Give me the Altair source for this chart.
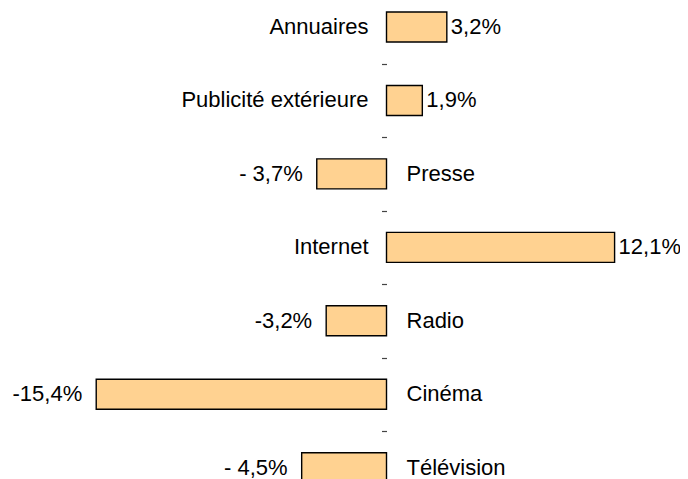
import altair as alt
import pandas as pd

categories = ["Annuaires", "Publicité extérieure", "Presse", "Internet", "Radio", "Cinéma", "Télévision"]
values = [3.2, 1.9, -3.7, 12.1, -3.2, -15.4, -4.5]
value_labels = ["3,2%", "1,9%", "- 3,7%", "12,1%", "-3,2%", "-15,4%", "- 4,5%"]

df = pd.DataFrame({"cat": categories, "value": values, "label": value_labels})

FONT = "Liberation Sans"
FS = 22

yenc = alt.Y(
    "cat:N",
    sort=categories,
    scale=alt.Scale(range=[-17.75, 496.4], paddingInner=0, paddingOuter=0),
    axis=alt.Axis(
        title=None, labels=False, domain=False, grid=False,
        ticks=True, tickSize=5, tickColor="#444444", tickWidth=1.2,
        tickBand="extent", offset=-378.5,
    ),
)
xscale = alt.Scale(domain=[-20.08, 15.57], nice=False, zero=False)

base = alt.Chart(df).transform_calculate(zero="0").encode(y=yenc)

bars = base.mark_bar(size=30, fill="#FFD291", stroke="#000000", strokeWidth=1.4).encode(
    x=alt.X("value:Q", scale=xscale, axis=None)
)

pos = base.transform_filter("datum.value >= 0")
neg = base.transform_filter("datum.value < 0")

txt = dict(font=FONT, fontSize=FS, color="#000000", baseline="middle")

cat_pos = pos.mark_text(align="right", dx=-18, **txt).encode(
    x=alt.X("zero:Q", scale=xscale, axis=None), text="cat:N"
)
cat_neg = neg.mark_text(align="left", dx=20, **txt).encode(
    x=alt.X("zero:Q", scale=xscale, axis=None), text="cat:N"
)
val_pos = pos.mark_text(align="left", dx=4, **txt).encode(
    x=alt.X("value:Q", scale=xscale, axis=None), text="label:N"
)
val_neg = neg.mark_text(align="right", dx=-14, **txt).encode(
    x=alt.X("value:Q", scale=xscale, axis=None), text="label:N"
)

chart = alt.layer(bars, cat_pos, cat_neg, val_pos, val_neg).properties(
    width=672,
    height=471,
    padding=0,
    autosize=alt.AutoSizeParams(type="none"),
    background="white",
).configure_view(stroke=None)

chart.save("out.html", embed_options={"renderer": "svg", "actions": False})
